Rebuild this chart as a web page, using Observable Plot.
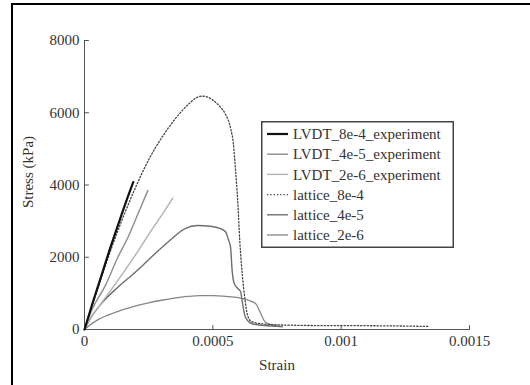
<!DOCTYPE html>
<html>
<head>
<meta charset="utf-8">
<script src="https://cdn.jsdelivr.net/npm/d3@7"></script>
<script src="https://cdn.jsdelivr.net/npm/@observablehq/plot@0.6"></script>
<style>
  html, body { margin: 0; padding: 0; background: #fff; }
  #wrap { position: relative; width: 530px; height: 385px; overflow: hidden;
          font-family: "Liberation Serif", "Times New Roman", serif; color: #333; }
  #frame { position: absolute; left: 11px; top: 3px; width: 540px; height: 400px;
           border-left: 2px solid #000; border-top: 2px solid #000; pointer-events: none; }
  #chart { position: absolute; left: 0; top: 0; }
  .lab { position: absolute; font-size: 15px; color: #333; white-space: nowrap; }
  #ylab { left: 28px; top: 172px; transform: translate(-50%, -50%) rotate(-90deg); }
  #xlab { left: 277px; top: 365px; transform: translate(-50%, -50%); }
  #legend { position: absolute; left: 261px; top: 121px; }
</style>
</head>
<body>
<div id="wrap">
  <div id="chart"></div>
  <div id="frame"></div>
  <div class="lab" id="ylab">Stress (kPa)</div>
  <div class="lab" id="xlab">Strain</div>
  <div id="legend"></div>
</div>
<script>
// Axis ticks
const xTicks = [0, 0.0005, 0.001, 0.0015];
const xTickLabels = ["0", "0.0005", "0.001", "0.0015"];
const yTicks = [0, 2000, 4000, 6000, 8000];
const yTickLabels = ["0", "2000", "4000", "6000", "8000"];

// Series names (legend order)
const seriesNames = [
  "LVDT_8e-4_experiment",
  "LVDT_4e-5_experiment",
  "LVDT_2e-6_experiment",
  "lattice_8e-4",
  "lattice_4e-5",
  "lattice_2e-6"
];

// Stress–strain curves (strain, stress in kPa)
const lvdt8e4Strain = [0, 0.00003, 0.00006, 0.0001, 0.00013, 0.00016, 0.00019];
const lvdt8e4Stress = [0, 700, 1360, 2250, 2880, 3500, 4080];

const lvdt4e5Strain = [0, 0.00003, 0.00008, 0.00013, 0.00017, 0.00021, 0.000247];
const lvdt4e5Stress = [0, 560, 1200, 2000, 2560, 3230, 3850];

const lvdt2e6Strain = [0, 0.00003, 0.000065, 0.00013, 0.0002, 0.00026, 0.000305, 0.000344];
const lvdt2e6Stress = [0, 380, 720, 1360, 2080, 2740, 3210, 3635];

const lat8e4Strain = [0, 0.00005, 0.0001, 0.00015, 0.0002, 0.00025, 0.0003, 0.00035, 0.0004, 0.00044,
  0.00046, 0.0005, 0.00053, 0.00055, 0.00057, 0.00058, 0.000588, 0.000597, 0.000605, 0.000615,
  0.000625, 0.000635, 0.00065, 0.0007, 0.00075, 0.0008, 0.0009, 0.001, 0.0011, 0.0012, 0.0013, 0.00134];
const lat8e4Stress = [0, 1100, 2150, 3100, 3950, 4700, 5300, 5800, 6200, 6430,
  6460, 6350, 6150, 5950, 5550, 5150, 4450, 3550, 2450, 1500,
  850, 400, 220, 150, 130, 120, 110, 110, 105, 100, 90, 85];

const lat4e5Strain = [0, 0.000026, 0.000065, 0.00013, 0.0002, 0.00026, 0.00033, 0.00039, 0.00044, 0.00049,
  0.00053, 0.00055, 0.00056, 0.000569, 0.000575, 0.000582, 0.000595, 0.000608, 0.000614, 0.000627,
  0.000653, 0.0007, 0.00075, 0.00077];
const lat4e5Stress = [0, 340, 711, 1171, 1600, 2001, 2450, 2787, 2880, 2860,
  2790, 2700, 2500, 2280, 1650, 1300, 1150, 1050, 800, 340,
  160, 110, 90, 80];

const lat2e6Strain = [0, 0.00002, 0.00005, 0.0001, 0.00015, 0.0002, 0.00025, 0.0003, 0.00035, 0.0004,
  0.00045, 0.0005, 0.00055, 0.0006, 0.00065, 0.00067, 0.000686, 0.000705, 0.000738, 0.00077];
const lat2e6Stress = [0, 120, 260, 420, 550, 655, 740, 810, 870, 915,
  940, 935, 915, 880, 780, 690, 450, 200, 110, 80];

// Line styles per series
const styles = [
  {stroke: "#111", strokeWidth: 2.2, dash: null},
  {stroke: "#8c8c8c", strokeWidth: 1.4, dash: null},
  {stroke: "#b2b2b2", strokeWidth: 1.4, dash: null},
  {stroke: "#444", strokeWidth: 1.3, dash: "1.3,2"},
  {stroke: "#6e6e6e", strokeWidth: 1.4, dash: null},
  {stroke: "#868686", strokeWidth: 1.3, dash: null}
];

const zipRows = (xs, ys) => xs.map((x, i) => ({strain: x, stress: ys[i]}));
const seriesData = [
  zipRows(lvdt8e4Strain, lvdt8e4Stress),
  zipRows(lvdt4e5Strain, lvdt4e5Stress),
  zipRows(lvdt2e6Strain, lvdt2e6Stress),
  zipRows(lat8e4Strain, lat8e4Stress),
  zipRows(lat4e5Strain, lat4e5Stress),
  zipRows(lat2e6Strain, lat2e6Stress)
];

const xLabelOf = new Map(xTicks.map((t, i) => [t, xTickLabels[i]]));
const yLabelOf = new Map(yTicks.map((t, i) => [t, yTickLabels[i]]));

// Inward-pointing tick: a straight stroke from the anchor
const tickShape = {draw(context, l) { context.moveTo(0, 0); context.lineTo(0, -l); }};

// Draw experiments last so the black curve sits on top
const drawOrder = [5, 4, 3, 2, 1, 0];
const lineMarks = drawOrder.map(k => Plot.line(seriesData[k], {
  x: "strain", y: "stress", curve: "monotone-x",
  stroke: styles[k].stroke, strokeWidth: styles[k].strokeWidth,
  strokeDasharray: styles[k].dash
}));

const chart = Plot.plot({
  width: 530,
  height: 385,
  marginLeft: 84,
  marginRight: 61,
  marginTop: 40,
  marginBottom: 56,
  style: {fontFamily: "'Liberation Serif', 'Times New Roman', serif", fontSize: "15px", color: "#333", background: "transparent"},
  x: {domain: [0, 0.0015]},
  y: {domain: [0, 8000]},
  marks: [
    Plot.ruleX([0], {stroke: "#555", strokeWidth: 1}),
    Plot.ruleY([0], {stroke: "#555", strokeWidth: 1}),
    Plot.vector(xTicks, {x: d => d, y: 0, length: 4, rotate: 0, anchor: "start", shape: tickShape, stroke: "#555", strokeWidth: 1}),
    Plot.vector(yTicks, {x: 0, y: d => d, length: 4, rotate: 90, anchor: "start", shape: tickShape, stroke: "#555", strokeWidth: 1}),
    Plot.axisX({ticks: xTicks, tickFormat: d => xLabelOf.get(d), tickSize: 0, tickPadding: 6, label: null, fill: "#333"}),
    Plot.axisY({ticks: yTicks, tickFormat: d => yLabelOf.get(d), tickSize: 0, tickPadding: 5, label: null, fill: "#333"}),
    ...lineMarks
  ]
});
document.getElementById("chart").appendChild(chart);

// Legend box
const lw = 193, lh = 127, rowY0 = 13, rowStep = 20.2;
const leg = d3.select("#legend").append("svg")
  .attr("width", lw).attr("height", lh)
  .style("font-family", "'Liberation Serif', 'Times New Roman', serif")
  .style("font-size", "15px");
leg.append("rect").attr("x", 0.75).attr("y", 0.75).attr("width", lw - 1.5).attr("height", lh - 1.5)
  .attr("fill", "#fff").attr("stroke", "#444").attr("stroke-width", 1.5);
const rows = leg.selectAll("g").data(seriesNames).join("g")
  .attr("transform", (d, i) => `translate(0,${rowY0 + i * rowStep})`);
rows.append("line").attr("x1", 6).attr("x2", 27).attr("y1", 0).attr("y2", 0)
  .attr("stroke", (d, i) => styles[i].stroke)
  .attr("stroke-width", (d, i) => styles[i].strokeWidth)
  .attr("stroke-dasharray", (d, i) => styles[i].dash);
rows.append("text").attr("x", 32).attr("y", 0).attr("dy", "0.35em")
  .attr("fill", "#333").text(d => d);
</script>
</body>
</html>
